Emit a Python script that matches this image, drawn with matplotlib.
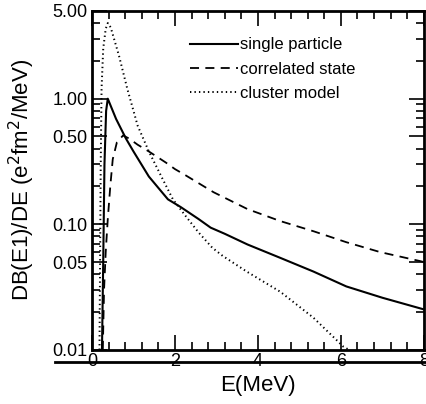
import matplotlib
matplotlib.use("Agg")
import matplotlib.pyplot as plt
from matplotlib.lines import Line2D
from matplotlib.ticker import FixedLocator, NullFormatter

# data
sp_x = [0.24, 0.27, 0.30, 0.34, 0.38, 0.58, 0.82, 1.0, 1.37, 1.83, 2.14, 2.57, 2.86, 3.2, 3.75, 4.54, 5.34, 6.13, 7.0, 8.0]
sp_y = [0.01, 0.05, 0.3, 0.8, 1.0, 0.69, 0.48, 0.38, 0.24, 0.158, 0.137, 0.11, 0.094, 0.084, 0.069, 0.054, 0.042, 0.032, 0.026, 0.021]

cs_x = [0.26, 0.29, 0.33, 0.38, 0.44, 0.5, 0.6, 0.75, 0.9, 1.1, 1.37, 1.78, 2.0, 2.26, 2.93, 3.75, 4.54, 5.34, 6.13, 6.95, 7.9, 8.0]
cs_y = [0.01, 0.03, 0.06, 0.11, 0.2, 0.33, 0.45, 0.51, 0.48, 0.43, 0.38, 0.31, 0.275, 0.245, 0.18, 0.132, 0.106, 0.088, 0.072, 0.06, 0.051, 0.05]

cm_x = [0.18, 0.21, 0.23, 0.27, 0.33, 0.38, 0.45, 0.65, 0.85, 1.1, 1.37, 1.7, 1.95, 2.26, 2.57, 2.9, 3.15, 3.73, 4.54, 5.34, 6.06, 6.2]
cm_y = [0.01, 0.3, 1.2, 2.5, 3.6, 4.0, 3.7, 2.2, 1.2, 0.61, 0.38, 0.23, 0.158, 0.116, 0.086, 0.065, 0.056, 0.042, 0.029, 0.018, 0.0106, 0.01]

labels = ["single particle", "correlated state", "cluster model"]
yticks = [0.01, 0.05, 0.10, 0.50, 1.00, 5.00]
ytick_labels = ["0.01", "0.05", "0.10", "0.50", "1.00", "5.00"]
xticks = [0, 2, 4, 6, 8]

plt.rcParams['font.family'] = ['Liberation Sans', 'DejaVu Sans']

fig = plt.figure(figsize=(4.26, 4.04), dpi=100)
ax = fig.add_axes([0.216, 0.134, 0.779, 0.839])

ax.plot(sp_x, sp_y, color='black', lw=1.5, ls='-', label=labels[0])
ax.plot(cs_x, cs_y, color='black', lw=1.3, ls=(0, (5, 3.5)), label=labels[1])
ax.plot(cm_x, cm_y, color='black', lw=1.4, ls=(0, (0.7, 1.6)), label=labels[2])

ax.set_yscale('log')
ax.set_xlim(0, 8)
ax.set_ylim(0.01, 5.0)

ax.set_yticks(yticks)
ax.set_yticklabels(ytick_labels)
minor_y = [m * 10.0**e for e in (-2, -1, 0) for m in range(2, 10)]
minor_y = [v for v in minor_y if v < 5.0 and v not in (0.05, 0.5)]
ax.yaxis.set_minor_locator(FixedLocator(minor_y))
ax.yaxis.set_minor_formatter(NullFormatter())

ax.set_xticks(xticks)
ax.xaxis.set_minor_locator(FixedLocator([i * 0.4 for i in range(21)]))

for sp in ax.spines.values():
    sp.set_linewidth(2.0)

ax.tick_params(which='both', direction='in', top=True, right=True, width=1.2)
ax.tick_params(which='major', length=11, labelsize=13)
ax.tick_params(which='minor', length=6)
ax.tick_params(axis='x', which='major', pad=2)
ax.tick_params(axis='y', which='major', pad=3)

ax.set_xlabel('E(MeV)', fontsize=16, labelpad=4)
ax.set_ylabel('DB(E1)/DE (e$^2$fm$^2$/MeV)', fontsize=16)
ax.yaxis.set_label_coords(-0.165, 0.5)

leg = ax.legend(loc='upper left', bbox_to_anchor=(0.295, 0.922), frameon=False,
                fontsize=12, handlelength=2.9, handletextpad=0.1,
                labelspacing=0.55, borderaxespad=0.0, borderpad=0.0)

# horizontal rule through x tick labels, as in the reference
fig.add_artist(Line2D([55 / 426, 1.0], [1 - 362 / 404, 1 - 362 / 404],
                      color='black', lw=2.0, transform=fig.transFigure))

fig.savefig('out.png', dpi=100)
